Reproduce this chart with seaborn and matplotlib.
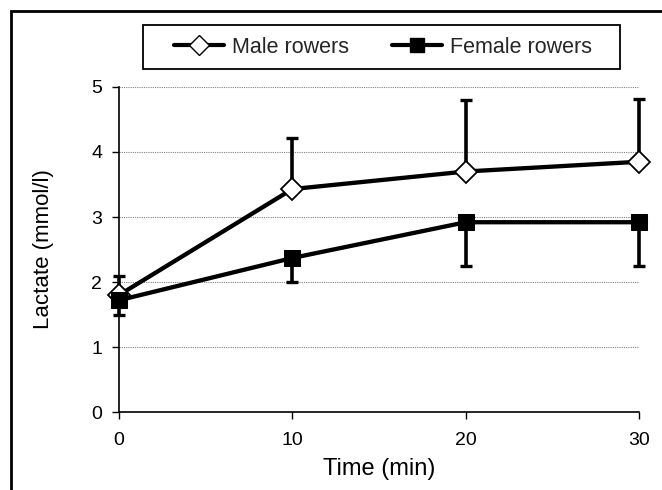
import matplotlib
matplotlib.use("Agg")
import matplotlib.pyplot as plt
import seaborn as sns
import pandas as pd
import numpy as np
from matplotlib.patches import Rectangle
from matplotlib.lines import Line2D

time_min = [0, 10, 20, 30]
male_mean = [1.80, 3.43, 3.70, 3.85]
male_sd = [0.30, 0.79, 1.10, 0.97]
female_mean = [1.72, 2.37, 2.92, 2.92]
female_sd = [0.22, 0.37, 0.67, 0.67]
series_names = ["Male rowers", "Female rowers"]
y_ticks = [0, 1, 2, 3, 4, 5]
x_ticks = [0, 10, 20, 30]

sns.set_theme(style="white")
plt.rcParams["font.family"] = ["Liberation Sans", "DejaVu Sans"]

df = pd.DataFrame({
    "Time": time_min * 2,
    "Lactate": male_mean + female_mean,
    "Group": [series_names[0]] * 4 + [series_names[1]] * 4,
})

fig = plt.figure(figsize=(6.62, 4.9), dpi=100)
ax = fig.add_axes([0.1798, 0.159, 0.7855, 0.6635])

# error bars (male up only, female down only)
for mean, err in [(male_mean, [np.zeros(4), male_sd]),
                  (female_mean, [female_sd, np.zeros(4)])]:
    eb = ax.errorbar(time_min, mean, yerr=err, fmt="none",
                     ecolor="black", elinewidth=2.6, capsize=4.2, capthick=2.4, zorder=2)
    for art in list(eb.lines[1]) + list(eb.lines[2]):
        art.set_clip_on(False)

sns.lineplot(data=df, x="Time", y="Lactate", hue="Group", style="Group",
             palette=["black", "black"], markers={series_names[0]: "D", series_names[1]: "s"},
             dashes=False, linewidth=3.1, ax=ax, legend=False, zorder=3)

for ln in ax.get_lines():
    ln.set_clip_on(False)
    if ln.get_marker() == "D":
        ln.set_markerfacecolor("white")
        ln.set_markeredgecolor("black")
        ln.set_markersize(11.2)
        ln.set_markeredgewidth(1.3)
    elif ln.get_marker() == "s":
        ln.set_markerfacecolor("black")
        ln.set_markeredgecolor("black")
        ln.set_markersize(11)

ax.set_xlim(0, 30)
ax.set_ylim(0, 5)
ax.set_xticks(x_ticks)
ax.set_yticks(y_ticks)
ax.tick_params(axis="both", labelsize=14, colors="black", direction="out",
               length=5, width=1, bottom=True, left=True)
ax.tick_params(axis="x", pad=9)
ax.tick_params(axis="y", pad=7)
for y in y_ticks[1:]:
    ax.axhline(y, color="#808080", linestyle=(0, (1, 1)), linewidth=0.8, zorder=1)
ax.grid(False)
sns.despine(ax=ax)
for s in ["left", "bottom"]:
    ax.spines[s].set_color("black")
    ax.spines[s].set_linewidth(1.2)
ax.set_xlabel("Time (min)", fontsize=17, color="black", labelpad=7)
ax.set_ylabel("Lactate (mmol/l)", fontsize=16, color="black", labelpad=27)

h1 = Line2D([], [], color="black", lw=3.0, marker="D", markersize=10,
            markerfacecolor="white", markeredgecolor="black")
h2 = Line2D([], [], color="black", lw=3.0, marker="s", markersize=10,
            markerfacecolor="black")
leg = fig.legend([h1, h2], series_names, ncol=2, loc="center",
                 bbox_to_anchor=(0.579, 0.904), fontsize=15.5, frameon=False,
                 handlelength=2.3, columnspacing=2.0, handletextpad=0.4)

# legend frame
fig.patches.append(Rectangle((143 / 662, 1 - 69 / 490), 477 / 662, 44 / 490,
                             transform=fig.transFigure, fill=False,
                             edgecolor="black", linewidth=1.3, zorder=5))

fig.patches.append(Rectangle((11 / 662, -0.1), 1.2, 1 - 11 / 490 + 0.1,
                             transform=fig.transFigure, fill=False,
                             edgecolor="black", linewidth=2, zorder=0))

fig.savefig("out.png", dpi=100)
